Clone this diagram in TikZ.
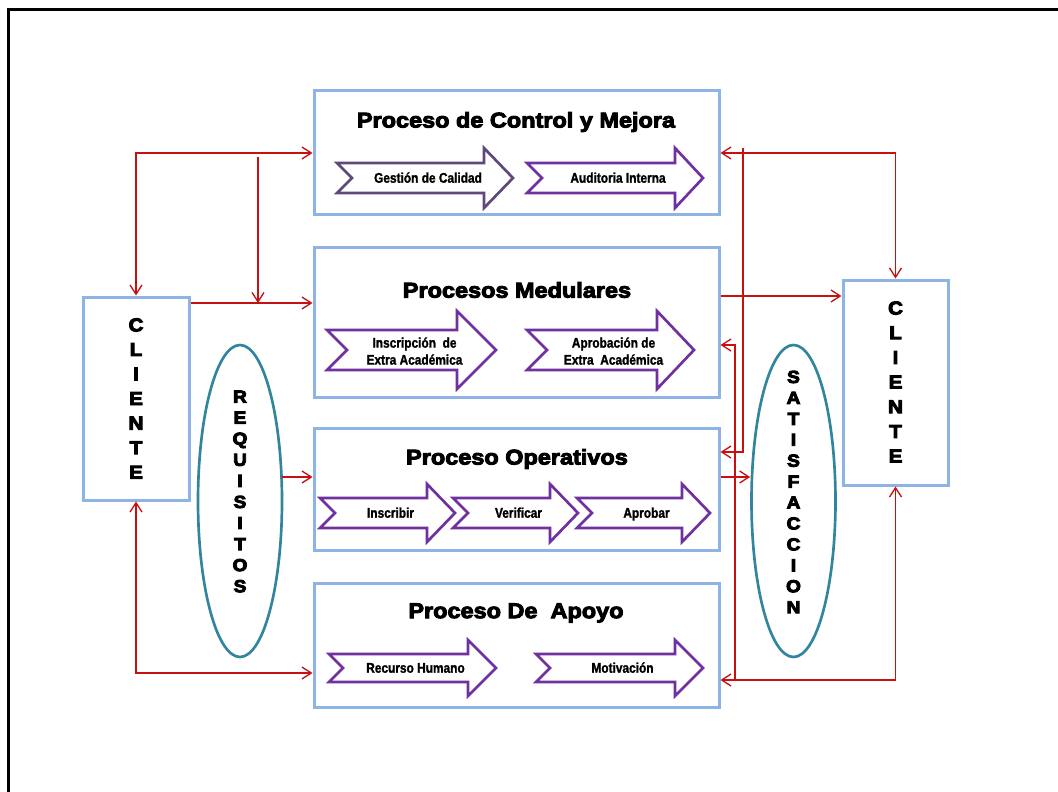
\documentclass[tikz,border=0pt]{standalone}
\usepackage{fontspec}
\setmainfont{Liberation Sans}
\newfontfamily\blackfont[FakeStretch=1.1]{Liberation Sans Bold}
\newfontfamily\narrowfont[FakeStretch=0.85]{Liberation Sans Bold}
\usetikzlibrary{arrows.meta,shapes.geometric,fit}
\definecolor{boxblue}{RGB}{142,180,227}
\definecolor{ovalteal}{RGB}{49,133,156}
\definecolor{procpurple}{RGB}{112,48,160}
\definecolor{greypurple}{RGB}{95,73,122}
\definecolor{connred}{RGB}{200,16,16}
\newcommand{\heavyon}[1]{\special{pdf:literal direct 2 Tr #1 w}}
\newcommand{\heavyoff}{\special{pdf:literal direct 0 Tr}}
\tikzset{
  heavy/.style={execute at begin node={\heavyon{#1}}, execute at end node={\heavyoff}},
  pbox/.style={draw=boxblue, line width=2.25pt, inner sep=0pt, fill=white},
  ptitle/.style={font=\blackfont\fontsize{16}{19}\selectfont, inner sep=0pt, heavy=0.7},
  conn/.style={draw=connred, line width=1pt, >={Straight Barb[length=7pt,width=9pt,line width=1pt]}},
  atext/.style={font=\narrowfont\fontsize{10.5}{12.75}\selectfont, align=center, inner sep=0pt, heavy=0.15},
  vletters/.style={font=\blackfont\fontsize{14}{18.4}\selectfont, align=center, inner sep=0pt, heavy=0.7},
  ovalletters/.style={font=\blackfont\fontsize{13}{15.8}\selectfont, align=center, inner sep=0pt, heavy=0.7},
  oval/.style={ellipse, draw=ovalteal, line width=2pt, inner sep=0pt, minimum width=63pt, minimum height=234pt},
  parrow/.style={line width=2pt, line join=miter, fill=white},
}
% #1 name, #2 left x, #3 head start x, #4 tip x, #5 centre y, #6 shaft half, #7 head half, #8 colour, #9 text
\newcommand{\procarr}[9]{%
  \draw[parrow, draw=#8] (#2,#5-#6) -- (#3,#5-#6) -- (#3,#5-#7) -- (#4,#5) -- (#3,#5+#7) -- (#3,#5+#6) -- (#2,#5+#6) -- (#2+#6,#5) -- cycle;
  \node[atext] (#1) at ({(#2+#4)/2+3},#5) {\vphantom{Ápg}#9};
}
\begin{document}
\begin{tikzpicture}[x=0.75pt,y=-0.75pt]
\useasboundingbox (0,0) rectangle (1058,792);
% outer frame
\draw[line width=1.9pt] (8.5,792) -- (8.5,9.5) -- (1058,9.5);

% process boxes
\node[pbox, fit={(314,91) (719,214)}] (ctrl) {};
\node[pbox, fit={(314,247) (719,397)}] (med) {};
\node[pbox, fit={(314,428) (719,550)}] (oper) {};
\node[pbox, fit={(314,583) (719,707)}] (apo) {};
% client boxes
\node[pbox, fit={(83,297) (189,500)}] (clL) {};
\node[pbox, fit={(843,280) (948,485)}] (clR) {};
% ovals
\node[oval] (req) at (240,501) {};
\node[oval] (sat) at (793.5,501) {};

% titles
\node[ptitle] (tctrl) at (516,122) {Proceso de Control y Mejora};
\node[ptitle] (tmed) at (517,290) {Procesos Medulares};
\node[ptitle] (toper) at (517,459) {Proceso Operativos};
\node[ptitle] (tapo) at (516,613) {Proceso De\ \ Apoyo};

% vertical labels
\node[vletters] (clLtxt) at (136,398.5) {C\\L\\I\\E\\N\\T\\E};
\node[vletters, font=\blackfont\fontsize{14}{18.5}\selectfont] (clRtxt) at (895.5,382) {C\\L\\I\\E\\N\\T\\E};
\node[ovalletters] (reqtxt) at (240,491.5) {R\\E\\Q\\U\\I\\S\\I\\T\\O\\S};
\node[ovalletters, font=\blackfont\fontsize{13}{15.7}\selectfont] (sattxt) at (793.5,492) {S\\A\\T\\I\\S\\F\\A\\C\\C\\I\\O\\N};

% process arrows
\procarr{a1}{337}{484}{513}{178}{15}{30}{greypurple}{Gestión de Calidad}
\procarr{a2}{527}{675}{703}{178}{15}{30}{procpurple}{Auditoria Interna}
\procarr{a3}{327}{457}{496}{350}{20}{39}{procpurple}{Inscripción\ \ de\\Extra Académica}
\procarr{a4}{527}{657}{694}{350}{20}{39}{procpurple}{Aprobación de\\Extra\ \ Académica}
\procarr{a5}{320}{427}{455}{513}{15}{29}{procpurple}{Inscribir}
\procarr{a6}{453}{550}{578}{513}{15}{29}{procpurple}{Verificar}
\procarr{a7}{577}{682}{710}{513}{15}{29}{procpurple}{Aprobar}
\procarr{a8}{329}{468}{496}{668}{14}{28}{procpurple}{Recurso Humano}
\procarr{a9}{536}{675}{703}{668}{14}{28}{procpurple}{Motivación}

% connectors, left side
\draw[conn,<->] (ctrl.west |- 0,153) -| (clL.north);
\coordinate (vtop) at (258,157);
\coordinate (vbot) at (258,303);
\draw[conn,->] (vtop) -- (vbot);
\draw[conn,->] (clL.east |- 0,303) -- (med.west |- 0,303);
\coordinate (reqout) at (282,477);
\draw[conn,->] (reqout) -- (oper.west |- 0,477);
\draw[conn,<->] (clL.south) |- (apo.west |- 0,673);

% connectors, right side
\draw[conn,->] (med.east |- 0,296) -- (clR.west |- 0,296);
\draw[conn,<->] (clR.north) |- (ctrl.east |- 0,153);
\coordinate (rtop) at (743,148);
\draw[conn,->] (rtop) |- (oper.east |- 0,452);
\draw[conn,<->] (clR.south) |- (apo.east |- 0,680);
\coordinate (rj) at (735,680);
\draw[conn,->] (rj) |- (med.east |- 0,345);
\draw[conn,->] (oper.east |- 0,477) -- (sat.west |- 0,477);
\end{tikzpicture}
\end{document}
